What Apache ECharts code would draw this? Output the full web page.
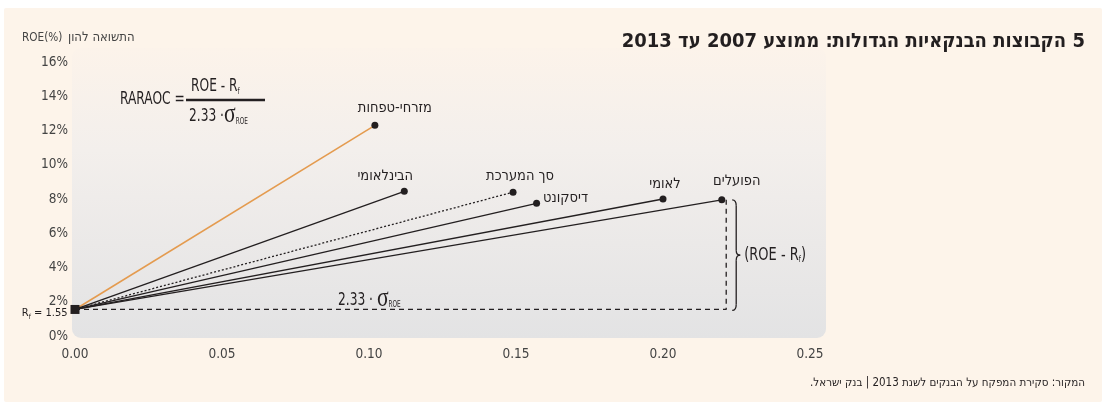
<!DOCTYPE html>
<html><head><meta charset="utf-8">
<script src="https://cdn.jsdelivr.net/npm/echarts/dist/echarts.min.js"></script>
<style>html,body{margin:0;padding:0;background:#fff;}#c{width:1106px;height:402px;}</style>
</head><body><div id="c"></div>
<script>
// ---- data ----
const bankNames = ['מזרחי-טפחות','הבינלאומי','סך המערכת','דיסקונט','לאומי','הפועלים'];
const sigmaROE = [0.102, 0.112, 0.149, 0.157, 0.200, 0.220];
const meanROE = [12.3, 8.45, 8.4, 7.75, 8.0, 7.95];
const riskFree = 1.55;
const xTickValues = [0, 0.05, 0.10, 0.15, 0.20, 0.25];
const yTickValues = [0, 2, 4, 6, 8, 10, 12, 14, 16];
const titleText = '5 הקבוצות הבנקאיות הגדולות: ממוצע 2007 עד 2013';
const yAxisTitleLatin = 'ROE(%)';
const yAxisTitleHeb = 'התשואה להון';
const sourceText = 'המקור: סקירת המפקח על הבנקים לשנת 2013 | בנק ישראל.';

// ---- styles ----
const NUM = "'Liberation Sans Narrow','DejaVu Sans Condensed',sans-serif";
const HEB = "'DejaVu Sans Condensed','Liberation Sans',sans-serif";
const SER = "'Liberation Serif','DejaVu Serif',serif";
const INK = '#231f20';
const rtl = s => '\u202B' + s + '\u202C';
const labelStyle = {
  'מזרחי-טפחות': {position: 'top', offset: [20, -1]},
  'הבינלאומי': {position: 'top', offset: [-19, 1]},
  'סך המערכת': {position: 'top', offset: [7, 0]},
  'דיסקונט': {position: 'right', offset: [-2, -5]},
  'לאומי': {position: 'top', offset: [2, 1]},
  'הפועלים': {position: 'top', offset: [15, -3]}
};
const lineStyleOf = {
  'מזרחי-טפחות': {color: '#e49b4f', width: 1.6, type: 'solid'},
  'סך המערכת': {color: INK, width: 1.3, type: [2, 2]}
};

const chart = echarts.init(document.getElementById('c'), null, {renderer: 'canvas'});

const series = [];
const last = bankNames.length - 1;
series.push({
  type: 'line', silent: true, symbol: 'none', z: 2,
  data: [[0, riskFree], [sigmaROE[last] + 0.0015, riskFree], [sigmaROE[last] + 0.0015, meanROE[last]]],
  lineStyle: {color: INK, width: 1.3, type: [5, 4]}
});
bankNames.forEach((n, i) => {
  const ls = lineStyleOf[n] || {color: INK, width: 1.3, type: 'solid'};
  series.push({
    type: 'line', silent: true, symbol: 'none', z: 3,
    data: [[0, riskFree], [sigmaROE[i], meanROE[i]]],
    lineStyle: ls
  });
});
series.push({
  type: 'scatter', symbol: 'circle', symbolSize: 7, z: 5,
  itemStyle: {color: INK, opacity: 1},
  data: bankNames.map((n, i) => ({
    value: [sigmaROE[i], meanROE[i]], name: n,
    label: {show: true, formatter: rtl(n), position: labelStyle[n].position, offset: labelStyle[n].offset,
      distance: 5, color: INK, fontSize: 14.5, fontFamily: HEB}
  }))
});
series.push({
  type: 'scatter', symbol: 'rect', symbolSize: 9, z: 6,
  itemStyle: {color: INK, opacity: 1},
  data: [[0, riskFree]],
  label: {show: true, position: 'left', distance: 3, offset: [0, 4],
    formatter: '{r|R}{s|f}{r| = 1.55}',
    rich: {r: {fontSize: 11, fontFamily: NUM, color: INK},
           s: {fontSize: 7, fontFamily: NUM, color: INK, padding: [7, 0, 0, 0]}}}
});

chart.setOption({
  animation: false,
  backgroundColor: 'transparent',
  grid: {left: 75, right: 296, top: 62, bottom: 66, containLabel: false},
  xAxis: {
    type: 'value', min: xTickValues[0], max: xTickValues[xTickValues.length - 1], interval: 0.05,
    axisLine: {show: false}, axisTick: {show: false}, splitLine: {show: false},
    axisLabel: {margin: 11, color: '#444', fontSize: 13.5, fontFamily: NUM,
      formatter: v => v.toFixed(2)}
  },
  yAxis: {
    type: 'value', min: yTickValues[0], max: yTickValues[yTickValues.length - 1], interval: 2,
    axisLine: {show: false}, axisTick: {show: false}, splitLine: {show: false},
    axisLabel: {margin: 7, color: '#444', fontSize: 13.5, fontFamily: NUM, formatter: '{value}%'}
  },
  series: series
});

// annotations tied to data coordinates
const pRf = chart.convertToPixel({gridIndex: 0}, [0.10, riskFree]);
const pTop = chart.convertToPixel({gridIndex: 0}, [sigmaROE[last] + 0.0015, meanROE[last]]);
const pBot = chart.convertToPixel({gridIndex: 0}, [sigmaROE[last] + 0.0015, riskFree]);
const bx = pTop[0] + 6, t = pTop[1], b = pBot[1] + 1, m = (t + b) / 2;
const braceStyle = {stroke: INK, lineWidth: 1.3, fill: null};
const braceParts = [
  {type: 'bezierCurve', shape: {x1: bx, y1: t, cpx1: bx + 4, cpy1: t, x2: bx + 4, y2: t + 6}},
  {type: 'line', shape: {x1: bx + 4, y1: t + 6, x2: bx + 4, y2: m - 5}},
  {type: 'bezierCurve', shape: {x1: bx + 4, y1: m - 5, cpx1: bx + 4, cpy1: m, x2: bx + 8, y2: m}},
  {type: 'bezierCurve', shape: {x1: bx + 8, y1: m, cpx1: bx + 4, cpy1: m, x2: bx + 4, y2: m + 5}},
  {type: 'line', shape: {x1: bx + 4, y1: m + 5, x2: bx + 4, y2: b - 6}},
  {type: 'bezierCurve', shape: {x1: bx + 4, y1: b - 6, cpx1: bx + 4, cpy1: b, x2: bx, y2: b}}
].map((p, i) => Object.assign(p, {id: 'brace' + i, style: braceStyle, silent: true}));

const sigmaRich = {
  r: {font: "17px " + NUM, fill: INK, padding: [4, 0, 0, 0]},
  g: {font: "27px " + SER, fill: INK},
  s: {font: "8px " + NUM, fill: INK, padding: [13, 0, 0, 0]}
};
const rfRich = {
  r: {font: "17px " + NUM, fill: INK},
  s: {font: "8px " + NUM, fill: INK, padding: [10, 0, 0, 0]}
};

chart.setOption({graphic: [
  {id: 'panel', type: 'rect', z: -20, silent: true, shape: {x: 4, y: 8, width: 1098, height: 394, r: 2},
   style: {fill: '#fdf4ea'}},
  {id: 'plotbg', type: 'rect', z: -10, silent: true, shape: {x: 72, y: 48, width: 754, height: 290, r: 9},
   style: {fill: {type: 'linear', x: 0, y: 0, x2: 0, y2: 1, colorStops: [
     {offset: 0, color: '#fcf3ea'}, {offset: 0.35, color: '#f3efec'}, {offset: 1, color: '#e3e3e4'}]}}},
  {id: 'title', type: 'text', x: 1085, y: 42,
   style: {text: rtl(titleText), font: "bold 20px " + HEB, fill: INK, align: 'right', verticalAlign: 'middle'}},
  {id: 'yname1', type: 'text', x: 22, y: 38, scaleX: 0.9,
   style: {text: yAxisTitleLatin, font: "13px " + HEB, fill: '#444', verticalAlign: 'middle'}},
  {id: 'yname2', type: 'text', x: 68, y: 38,
   style: {text: rtl(yAxisTitleHeb), font: "13px " + HEB, fill: '#444', verticalAlign: 'middle'}},
  {id: 'source', type: 'text', x: 1085, y: 383,
   style: {text: rtl(sourceText), font: "11.5px " + HEB, fill: INK, align: 'right', verticalAlign: 'middle'}},
  {id: 'raroc', type: 'text', x: 120, y: 100, scaleX: 0.8,
   style: {text: 'RARAOC =', font: "17px " + NUM, fill: INK, verticalAlign: 'middle'}},
  {id: 'num', type: 'text', x: 191, y: 87, scaleX: 0.8,
   style: {text: '{r|ROE - R}{s|f}', rich: rfRich, verticalAlign: 'middle'}},
  {id: 'frac', type: 'line', shape: {x1: 186, y1: 100, x2: 265, y2: 100}, style: {stroke: INK, lineWidth: 2.5}},
  {id: 'den', type: 'text', x: 189, y: 115, scaleX: 0.8,
   style: {text: '{r|2.33 ·}{g|σ}{s|ROE}', rich: sigmaRich, verticalAlign: 'middle'}},
  {id: 'sig', type: 'text', x: pRf[0] - 31, y: pRf[1] - 11, scaleX: 0.8,
   style: {text: '{r|2.33 · }{g|σ}{s|ROE}', rich: sigmaRich, verticalAlign: 'middle'}},
  {id: 'roerf', type: 'text', x: bx + 12, y: m, scaleX: 0.85,
   style: {text: '{r|(ROE - R}{s|f}{r|)}', rich: rfRich, verticalAlign: 'middle'}}
].concat(braceParts)});
</script></body></html>
